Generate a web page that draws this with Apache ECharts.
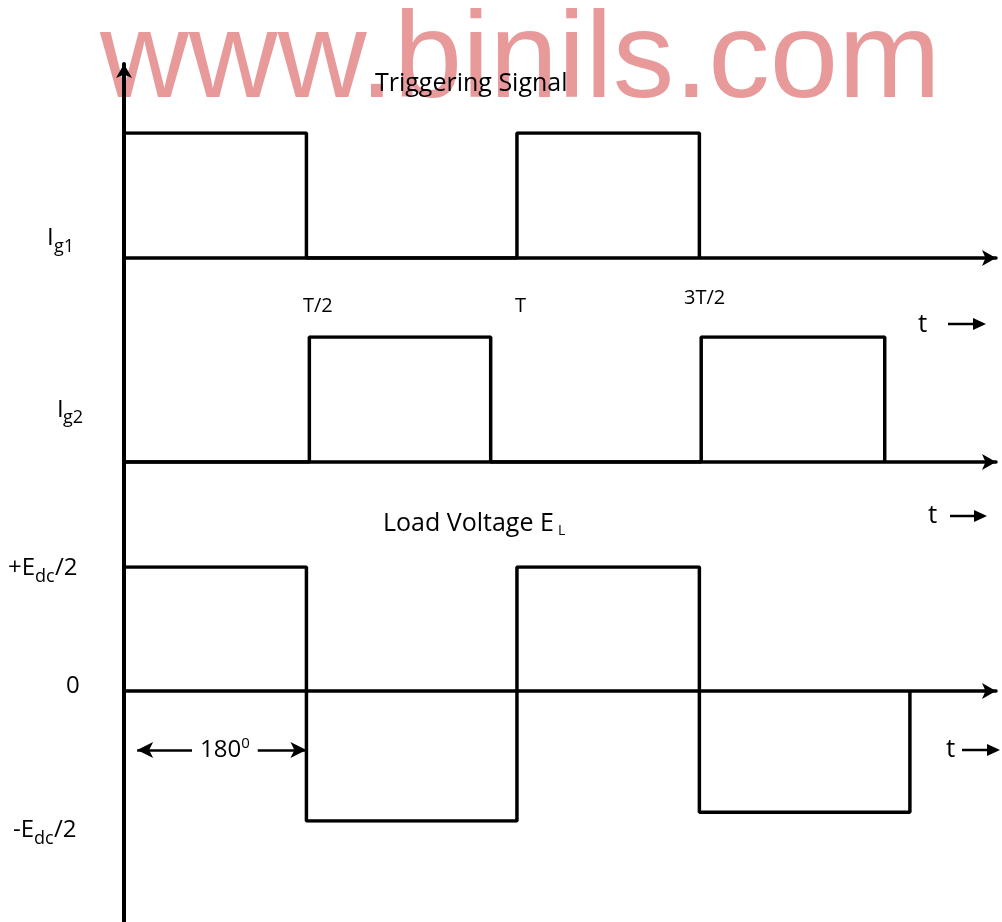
<!DOCTYPE html>
<html>
<head>
<meta charset="utf-8">
<title>Triggering signal / load voltage</title>
<script src="https://cdn.jsdelivr.net/npm/echarts@6/dist/echarts.min.js"></script>
<style>
  html, body { margin: 0; padding: 0; background: #fff; }
  #chart { width: 1002px; height: 922px; }
</style>
</head>
<body>
<div id="chart"></div>
<script>
// time is in units of the period T, levels are normalised (1 = pulse / +Edc/2)
const ig1Edges  = [0, 0.5, 1.077, 1.577];
const ig1Levels = [1, 0, 1, 0];
const ig2Edges  = [0, 0.508, 1.005, 1.582, 2.085];
const ig2Levels = [0, 1, 0, 1, 0];
const elEdges   = [0, 0.5, 1.077, 1.577, 2.154];
const elLevels  = [1, -1.05, 1, -0.98, 0];
const timeLabels = ['T/2', 'T', '3T/2'];
const angleSpan  = [0.036, 0.5];
const angleLevel = -0.476;

const FONT = '"Open Sans", "Noto Sans", sans-serif';
const LEFT = 124, PLOT_W = 872, T_MAX = 2.39;

function steps(edges, levels) {
  return edges.map(function (t, i) { return [t, levels[i]]; });
}

function txt(text, x, y, size, extra) {
  const style = { text: text, font: size + 'px ' + FONT, fill: '#000', align: 'left', verticalAlign: 'middle' };
  Object.assign(style, extra || {});
  return { type: 'text', x: x, y: y, z: 20, style: style };
}

function arrowGlyph(x1, x2, y) {
  return {
    type: 'group', z: 20,
    children: [
      { type: 'line', shape: { x1: x1, y1: y, x2: x2 - 10, y2: y }, style: { stroke: '#000', lineWidth: 2.5 } },
      { type: 'polygon', shape: { points: [[x2 - 13, y - 6], [x2, y], [x2 - 13, y + 6]] }, style: { fill: '#000' } }
    ]
  };
}

const axisStyle = { color: '#000', width: 3.5 };

function tAxis(grid) {
  return {
    type: 'value', gridIndex: grid, min: 0, max: T_MAX,
    axisLine: { show: true, lineStyle: axisStyle, symbol: ['none', 'arrow'], symbolSize: [12, 14] },
    axisTick: { show: false }, axisLabel: { show: false }, splitLine: { show: false }
  };
}
function levelAxis(grid, min, max) {
  return { type: 'value', gridIndex: grid, min: min, max: max, show: false, splitLine: { show: false } };
}
function wave(idx, data) {
  return {
    type: 'line', xAxisIndex: idx, yAxisIndex: idx, step: 'end',
    data: data, showSymbol: false, symbol: 'none', silent: true,
    lineStyle: { color: '#000', width: 3.5 }, z: 5
  };
}

const chart = echarts.init(document.getElementById('chart'), null, { renderer: 'canvas' });

const elSeries = wave(2, steps(elEdges, elLevels));
elSeries.markLine = {
  silent: true,
  symbol: ['arrow', 'arrow'],
  symbolSize: [12, 16],
  lineStyle: { color: '#000', width: 2.5, type: 'solid' },
  label: { show: false },
  data: [[{ coord: [angleSpan[0], angleLevel] }, { coord: [angleSpan[1], angleLevel] }]]
};

const option = {
  animation: false,
  backgroundColor: '#fff',
  grid: [
    { left: LEFT, width: PLOT_W, top: 133, height: 125 },
    { left: LEFT, width: PLOT_W, top: 337, height: 125 },
    { left: LEFT, width: PLOT_W, top: 567, height: 254 },
    { left: LEFT, width: 10, top: 64, bottom: 0 }
  ],
  xAxis: [
    tAxis(0), tAxis(1), tAxis(2),
    { type: 'value', gridIndex: 3, min: 0, max: 1, show: false }
  ],
  yAxis: [
    levelAxis(0, 0, 1), levelAxis(1, 0, 1), levelAxis(2, -1.05, 1),
    {
      type: 'value', gridIndex: 3, min: 0, max: 1,
      axisLine: { show: true, lineStyle: { color: '#000', width: 4 }, symbol: ['none', 'arrow'], symbolSize: [12, 14] },
      axisTick: { show: false }, axisLabel: { show: false }, splitLine: { show: false }
    }
  ],
  series: [
    wave(0, steps(ig1Edges, ig1Levels)),
    wave(1, steps(ig2Edges, ig2Levels)),
    elSeries
  ],
  graphic: [
    {
      type: 'text', x: 100, y: 63, z: 0,
      style: { text: 'www.binils.com', font: '123px "Liberation Sans", Arial, sans-serif', fill: '#e89a9b', align: 'left', verticalAlign: 'middle' }
    },
    txt('Triggering Signal', 375, 84, 25),
    txt('I', 47, 238, 24), txt('g1', 54, 247, 18),
    txt('I', 57, 410, 24), txt('g2', 63, 418, 18),
    txt(timeLabels[0], 303, 306, 20),
    txt(timeLabels[1], 515, 306, 20),
    txt(timeLabels[2], 684, 298, 20),
    txt('t', 918, 325, 26), arrowGlyph(948, 986, 324),
    txt('t', 928, 516, 26), arrowGlyph(950, 987, 516),
    txt('Load Voltage E', 383, 524, 25), txt('L', 558, 531, 14),
    txt('+E', 8, 568, 24), txt('dc', 35, 577, 18), txt('/2', 55, 568, 24),
    txt('0', 66, 686, 24),
    txt('-E', 13, 830, 24), txt('dc', 34, 839, 18), txt('/2', 54, 830, 24),
    txt('{a|180}{b|0}', 192, 750, 24, {
      backgroundColor: '#fff', padding: [0, 8],
      rich: {
        a: { fontFamily: FONT, fontSize: 24, fill: '#000', lineHeight: 28 },
        b: { fontFamily: FONT, fontSize: 15, fill: '#000', verticalAlign: 'top', lineHeight: 28 }
      }
    }),
    txt('t', 946, 750, 26), arrowGlyph(962, 1000, 750)
  ]
};

chart.setOption(option);
</script>
</body>
</html>
